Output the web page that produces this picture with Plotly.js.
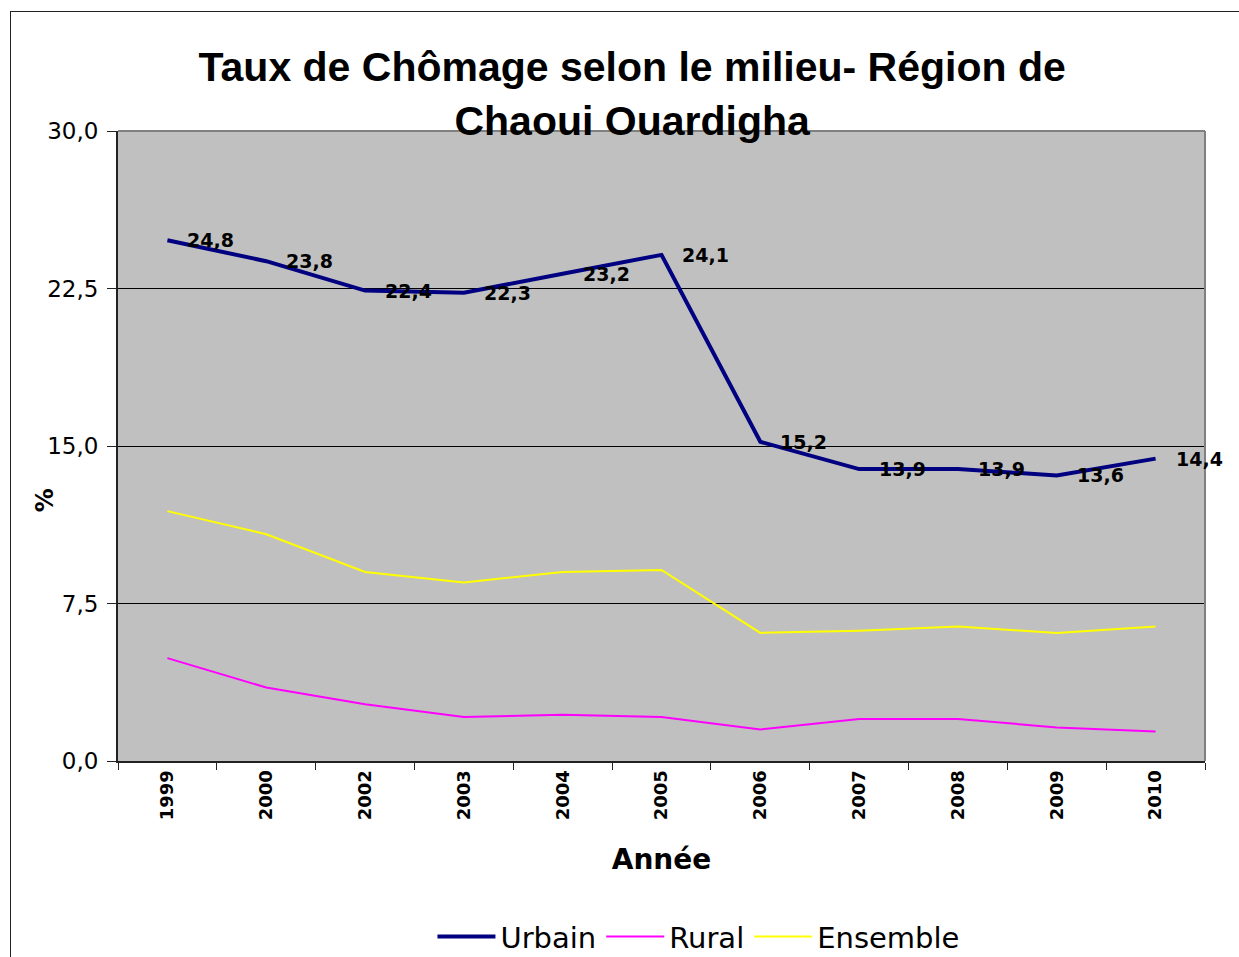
<!DOCTYPE html>
<html>
<head>
<meta charset="utf-8">
<script src="https://cdn.plot.ly/plotly-3.0.1.min.js"></script>
<style>
  html, body { margin: 0; padding: 0; background: #ffffff; overflow: hidden; }
  #chart { position: absolute; left: 0; top: 0; width: 1239px; height: 957px; }
  #frame { position: absolute; left: 10px; top: 11px; width: 1300px; height: 1000px; border: 1px solid #222; pointer-events: none; }
</style>
</head>
<body>
<div id="chart"></div>
<div id="frame"></div>
<script>
const years = ['1999', '2000', '2002', '2003', '2004', '2005', '2006', '2007', '2008', '2009', '2010'];
const urbain = [24.8, 23.8, 22.4, 22.3, 23.2, 24.1, 15.2, 13.9, 13.9, 13.6, 14.4];
const rural = [4.9, 3.5, 2.7, 2.1, 2.2, 2.1, 1.5, 2.0, 2.0, 1.6, 1.4];
const ensemble = [11.9, 10.8, 9.0, 8.5, 9.0, 9.1, 6.1, 6.2, 6.4, 6.1, 6.4];
const seriesNames = ['Urbain', 'Rural', 'Ensemble'];

const font = 'DejaVu Sans, Liberation Sans, Arial, sans-serif';
const titleFont = 'Liberation Sans, Arial, sans-serif';

const traces = [
  { x: years, y: urbain, name: seriesNames[0], type: 'scatter', mode: 'lines',
    line: { color: '#000080', width: 4 } },
  { x: years, y: rural, name: seriesNames[1], type: 'scatter', mode: 'lines',
    line: { color: '#FF00FF', width: 2 } },
  { x: years, y: ensemble, name: seriesNames[2], type: 'scatter', mode: 'lines',
    line: { color: '#FFFF00', width: 2 } }
];

const annotations = years.map((yr, i) => ({
  x: i, y: urbain[i], xref: 'x', yref: 'y',
  text: urbain[i].toFixed(1).replace('.', ','),
  showarrow: false, xanchor: 'left', yanchor: 'middle', xshift: 18,
  font: { family: font, size: 19, color: '#000', weight: 'bold' }
}));
annotations.push({
  xref: 'paper', yref: 'paper', x: -0.067, y: 0.414,
  text: '<b>%</b>', textangle: -90, showarrow: false,
  xanchor: 'center', yanchor: 'middle',
  font: { family: font, size: 24, color: '#000' }
});

const layout = {
  width: 1239, height: 957,
  paper_bgcolor: 'rgba(0,0,0,0)',
  plot_bgcolor: '#C0C0C0',
  margin: { l: 118, r: 34, t: 131, b: 196, autoexpand: false },
  separators: ', ',
  title: {
    text: '<b>Taux de Chômage selon le milieu- Région de<br>Chaoui Ouardigha</b>',
    font: { family: titleFont, size: 41, color: '#000' },
    xref: 'paper', x: 0.473, xanchor: 'center',
    yref: 'container', y: 0.915, yanchor: 'top'
  },
  xaxis: {
    type: 'category',
    tickson: 'boundaries',
    ticks: 'outside', ticklen: 7, tickcolor: '#222', tickwidth: 1,
    tickangle: -90,
    tickfont: { family: font, size: 18, color: '#000', weight: 'bold' },
    showgrid: false, zeroline: false,
    showline: true, linecolor: '#222', linewidth: 2,
    range: [-0.5, 10.5],
    title: { text: '<b>Année</b>', font: { family: font, size: 28, color: '#000' }, standoff: 30 }
  },
  yaxis: {
    range: [0, 30], dtick: 7.5, tick0: 0,
    tickformat: '.1f',
    ticks: 'outside', ticklen: 9, tickcolor: '#222', tickwidth: 1,
    ticklabelstandoff: 4,
    tickfont: { family: font, size: 23, color: '#000' },
    showgrid: true, gridcolor: '#000', gridwidth: 1,
    zeroline: false,
    showline: true, linecolor: '#222', linewidth: 2
  },
  shapes: [
    { type: 'line', xref: 'paper', yref: 'paper', x0: 0, x1: 1, y0: 1, y1: 1, line: { color: '#808080', width: 2 } },
    { type: 'line', xref: 'paper', yref: 'paper', x0: 1, x1: 1, y0: 0, y1: 1, line: { color: '#808080', width: 2 } }
  ],
  showlegend: true,
  legend: {
    orientation: 'h', xref: 'paper', x: 0.534, xanchor: 'center',
    yref: 'paper', y: -0.279, yanchor: 'middle',
    font: { family: font, size: 29, color: '#000' },
    itemwidth: 58,
    bgcolor: 'rgba(0,0,0,0)'
  },
  annotations: annotations
};

Plotly.newPlot('chart', traces, layout, { displayModeBar: false, staticPlot: true });
</script>
</body>
</html>
